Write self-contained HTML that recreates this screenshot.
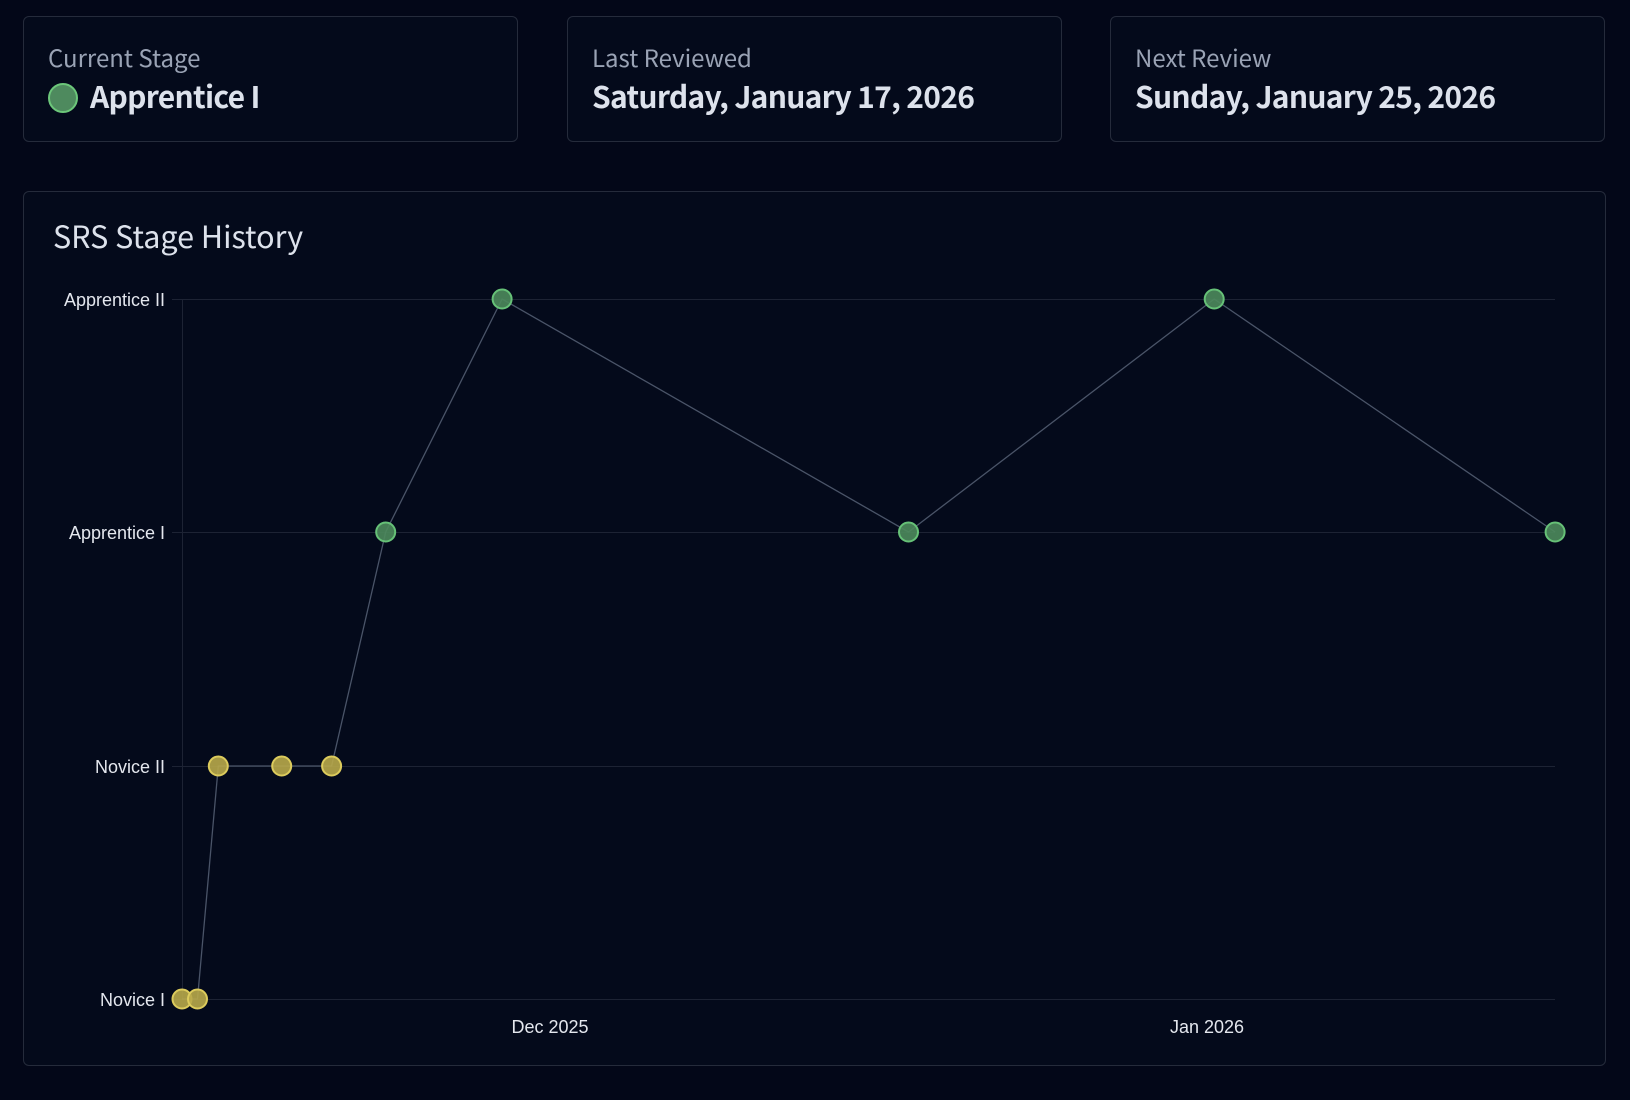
<!DOCTYPE html>
<html><head><meta charset="utf-8"><style>
html,body{margin:0;padding:0;background:#030718;width:1630px;height:1100px;overflow:hidden;font-family:"Liberation Sans","DejaVu Sans",sans-serif}
.card{position:absolute;top:16px;height:126px;width:495px;border:1px solid #252b3b;border-radius:6px;box-sizing:border-box;background:#040a1b}
.lab{position:absolute;left:24px;top:25px;font-size:24px;line-height:30px;color:#9aa3b5;font-family:"Noto Sans CJK JP","DejaVu Sans",sans-serif}
.val{position:absolute;left:24px;top:59px;font-size:30px;line-height:38px;font-weight:bold;color:#dde2ec;font-family:"Noto Sans CJK JP","DejaVu Sans",sans-serif;letter-spacing:-0.7px}
</style></head><body>
<div class="card" style="left:23px"><div class="lab">Current Stage</div><div class="val" style="left:24px"><span style="display:inline-block;width:30px;height:30px;border-radius:50%;background:#4e8a5e;border:2px solid #6cc77a;vertical-align:-5px;margin-right:12px;box-sizing:border-box"></span>Apprentice I</div></div>
<div class="card" style="left:567px"><div class="lab">Last Reviewed</div><div class="val">Saturday, January 17, 2026</div></div>
<div class="card" style="left:1110px"><div class="lab">Next Review</div><div class="val">Sunday, January 25, 2026</div></div>
<div class="card" style="left:23px;top:191px;width:1583px;height:875px"></div>
<svg width="1630" height="1100" style="position:absolute;left:0;top:0">
<text x="53" y="248" font-family="Noto Sans CJK JP,DejaVu Sans,sans-serif" font-size="30.5" fill="#dde2ec">SRS Stage History</text>
<g stroke="#1d2334" stroke-width="1">
<line x1="172" y1="299.5" x2="1555" y2="299.5"/>
<line x1="172" y1="532.5" x2="1555" y2="532.5"/>
<line x1="172" y1="766.5" x2="1555" y2="766.5"/>
<line x1="172" y1="999.5" x2="1555" y2="999.5"/>
<line x1="182.5" y1="299" x2="182.5" y2="999"/>
</g>
<g font-size="18" fill="#e4e7ee" text-anchor="end">
<text x="165" y="306">Apprentice II</text>
<text x="165" y="539">Apprentice I</text>
<text x="165" y="773">Novice II</text>
<text x="165" y="1006">Novice I</text>
</g>
<g font-size="18" fill="#e4e7ee" text-anchor="middle">
<text x="550" y="1033">Dec 2025</text>
<text x="1207" y="1033">Jan 2026</text>
</g>
<polyline fill="none" stroke="#4a5468" stroke-width="1.3" points="182,999 197.5,999 218.3,766 281.7,766 331.6,766 385.7,532 502.1,299 908.5,532 1214.2,299 1555.1,532"/>
<g fill="#b8a94a" fill-opacity="0.9" stroke="#dccb5c" stroke-width="2">
<circle cx="182" cy="999" r="9.5"/><circle cx="197.5" cy="999" r="9.5"/>
<circle cx="218.3" cy="766" r="9.5"/><circle cx="281.7" cy="766" r="9.5"/><circle cx="331.6" cy="766" r="9.5"/>
</g>
<g fill="#4c8a5c" fill-opacity="0.9" stroke="#66c177" stroke-width="2">
<circle cx="385.7" cy="532" r="9.5"/><circle cx="502.1" cy="299" r="9.5"/><circle cx="908.5" cy="532" r="9.5"/><circle cx="1214.2" cy="299" r="9.5"/><circle cx="1555.1" cy="532" r="9.5"/>
</g>
</svg>
</body></html>
